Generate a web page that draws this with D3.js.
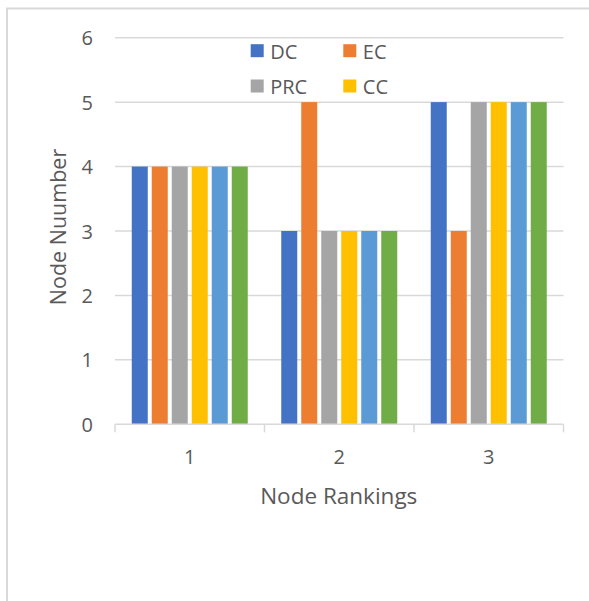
<!DOCTYPE html>
<html>
<head>
<meta charset="utf-8">
<script src="https://cdn.jsdelivr.net/npm/d3@7"></script>
<style>
  html, body { margin: 0; padding: 0; background: #fff; }
  svg { display: block; }
  text { font-family: "Open Sans", "Segoe UI", sans-serif; fill: #595959; }
</style>
</head>
<body>
<svg id="chart" width="589" height="601"></svg>
<script>
const categories = ["1", "2", "3"];
const seriesNames = ["DC", "EC", "PRC", "CC", "S5", "S6"];
const legendNames = ["DC", "EC", "PRC", "CC"];
const seriesColors = ["#4472C4", "#ED7D31", "#A5A5A5", "#FFC000", "#5B9BD5", "#70AD47"];
const DC  = [4, 3, 5];
const EC  = [4, 5, 3];
const PRC = [4, 3, 5];
const CC  = [4, 3, 5];
const S5  = [4, 3, 5];
const S6  = [4, 3, 5];
const yTicks = [0, 1, 2, 3, 4, 5, 6];
const xTitle = "Node Rankings";
const yTitle = "Node Nuumber";

const seriesValues = [DC, EC, PRC, CC, S5, S6];

const svg = d3.select("#chart");

// chart border (left and top visible)
svg.append("line").attr("x1", 7).attr("x2", 7).attr("y1", 8.5).attr("y2", 601)
  .attr("stroke", "#d9d9d9").attr("stroke-width", 2);
svg.append("line").attr("x1", 6).attr("x2", 589).attr("y1", 8.5).attr("y2", 8.5)
  .attr("stroke", "#d9d9d9").attr("stroke-width", 2);

const plot = { left: 115, right: 563.5, top: 37.7, bottom: 424.3 };

const y = d3.scaleLinear().domain([0, 6]).range([plot.bottom, plot.top]);
const x0 = d3.scaleBand().domain(categories).range([plot.left, plot.right]).padding(0);
const outer = 16.75;
const x1 = d3.scaleBand().domain(seriesNames)
  .range([outer, x0.bandwidth() - outer]).paddingInner(0.2).paddingOuter(0);

// gridlines
svg.append("g").selectAll("line").data(yTicks.filter(d => d > 0)).join("line")
  .attr("x1", plot.left).attr("x2", plot.right)
  .attr("y1", d => y(d)).attr("y2", d => y(d))
  .attr("stroke", "#d9d9d9").attr("stroke-width", 1.5);

// y tick labels
svg.append("g").selectAll("text").data(yTicks).join("text")
  .attr("x", 93).attr("y", d => y(d))
  .attr("text-anchor", "end").attr("dominant-baseline", "central")
  .attr("font-size", 20).text(d => d);

// bars
const rows = [];
categories.forEach((c, ci) => {
  seriesNames.forEach((s, si) => rows.push({ c, s, v: seriesValues[si][ci], color: seriesColors[si] }));
});
svg.append("g").selectAll("rect").data(rows).join("rect")
  .attr("x", d => x0(d.c) + x1(d.s))
  .attr("width", x1.bandwidth())
  .attr("y", d => y(d.v))
  .attr("height", d => y(0) - y(d.v))
  .attr("fill", d => d.color);

// x axis
const xAxis = svg.append("g").attr("transform", `translate(0,${plot.bottom})`);
xAxis.append("line").attr("x1", plot.left).attr("x2", plot.right)
  .attr("stroke", "#d9d9d9").attr("stroke-width", 1.5);
const bounds = categories.map(c => x0(c)).concat([x0(categories[categories.length - 1]) + x0.bandwidth()]);
xAxis.selectAll(".tk").data(bounds).join("line").attr("class", "tk")
  .attr("x1", d => d).attr("x2", d => d).attr("y1", 0).attr("y2", 8)
  .attr("stroke", "#d9d9d9").attr("stroke-width", 1.5);
xAxis.selectAll(".lbl").data(categories).join("text").attr("class", "lbl")
  .attr("x", d => x0(d) + x0.bandwidth() / 2).attr("y", 32)
  .attr("text-anchor", "middle").attr("dominant-baseline", "central")
  .attr("font-size", 20).text(d => d);

// axis titles
svg.append("text").attr("x", (plot.left + plot.right) / 2 - 0.5).attr("y", 495)
  .attr("text-anchor", "middle").attr("dominant-baseline", "central")
  .attr("font-size", 22.5).text(xTitle);
svg.append("text")
  .attr("transform", `translate(57.5,${227}) rotate(-90)`)
  .attr("text-anchor", "middle").attr("dominant-baseline", "central")
  .attr("font-size", 21.5).text(yTitle);

// legend
const legPos = [[250.7, 50.7], [343.3, 50.7], [250.7, 86], [343.3, 86]];
const leg = svg.append("g").selectAll("g").data(legendNames).join("g")
  .attr("transform", (d, i) => `translate(${legPos[i][0]},${legPos[i][1]})`);
leg.append("rect").attr("x", 0).attr("y", -6.5).attr("width", 13).attr("height", 13)
  .attr("fill", (d, i) => seriesColors[i]);
leg.append("text").attr("x", 19.5).attr("y", 0.5).attr("dominant-baseline", "central")
  .attr("font-size", 20).text(d => d);
</script>
</body>
</html>
